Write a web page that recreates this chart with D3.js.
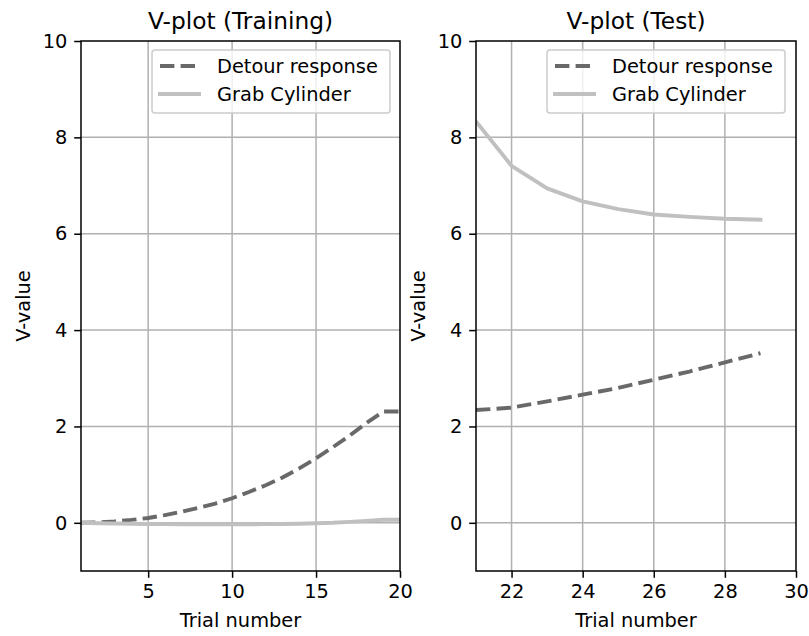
<!DOCTYPE html>
<html>
<head>
<meta charset="utf-8">
<script src="https://cdn.jsdelivr.net/npm/d3@7"></script>
<style>
  html, body { margin: 0; padding: 0; background: #fff; }
  svg { display: block; font-family: "DejaVu Sans", sans-serif; }
</style>
</head>
<body>
<svg id="chart" width="809" height="636"></svg>
<script>
// Training phase, trials 1..20
const trainTrials = d3.range(1, 21);
const trainDetour = [0, 0.01, 0.03, 0.06, 0.1, 0.16, 0.23, 0.31, 0.4, 0.51,
                     0.64, 0.78, 0.94, 1.13, 1.34, 1.57, 1.81, 2.07, 2.31, 2.31];
const trainGrab = [0, -0.01, -0.015, -0.02, -0.025, -0.028, -0.03, -0.03, -0.03, -0.03,
                   -0.03, -0.028, -0.025, -0.02, -0.01, 0.0, 0.02, 0.04, 0.065, 0.065];

// Test phase, trials 21..29
const testTrials = d3.range(21, 30);
const testDetour = [2.34, 2.39, 2.52, 2.66, 2.8, 2.97, 3.14, 3.33, 3.52];
const testGrab = [8.33, 7.41, 6.94, 6.67, 6.51, 6.4, 6.35, 6.31, 6.29];

const trainXTicks = [5, 10, 15, 20];
const testXTicks = [22, 24, 26, 28, 30];
const yTicks = [0, 2, 4, 6, 8, 10];

const seriesNames = ["Detour response", "Grab Cylinder"];
const detourColor = "#696969";
const grabColor = "#c0c0c0";

const svg = d3.select("#chart");
const plotTop = 41, plotBottom = 571;
const fs = 19.4, titleFs = 23.3;
const lw = 3.9, thin = 1.5, tick = 6.8;
const dash = "14.4,6.2";

const panels = [
  { title: "V-plot (Training)", left: 81, right: 400, xDomain: [1, 20], xTicks: trainXTicks,
    trials: trainTrials, detour: trainDetour, grab: trainGrab, legendX: 152 },
  { title: "V-plot (Test)", left: 476, right: 796, xDomain: [21, 30], xTicks: testXTicks,
    trials: testTrials, detour: testDetour, grab: testGrab, legendX: 547 }
];

panels.forEach((p, i) => {
  const x = d3.scaleLinear().domain(p.xDomain).range([p.left, p.right]);
  const y = d3.scaleLinear().domain([-1, 10]).range([plotBottom, plotTop]);
  const g = svg.append("g");
  const clipId = "clip" + i;
  svg.append("clipPath").attr("id", clipId).append("rect")
    .attr("x", p.left).attr("y", plotTop).attr("width", p.right - p.left).attr("height", plotBottom - plotTop);

  // grid
  const grid = g.append("g").attr("stroke", "#b0b0b0").attr("stroke-width", thin);
  grid.selectAll(".gx").data(p.xTicks.filter(t => t > p.xDomain[0] && t < p.xDomain[1])).join("line")
    .attr("x1", d => x(d)).attr("x2", d => x(d)).attr("y1", plotTop).attr("y2", plotBottom);
  grid.selectAll(".gy").data(yTicks.filter(t => t < 10)).join("line")
    .attr("y1", d => y(d)).attr("y2", d => y(d)).attr("x1", p.left).attr("x2", p.right);

  // lines
  const line = d3.line().x((d, k) => x(p.trials[k])).y(d => y(d));
  const lines = g.append("g").attr("clip-path", `url(#${clipId})`).attr("fill", "none");
  lines.append("path").datum(p.detour).attr("d", line)
    .attr("stroke", detourColor).attr("stroke-width", lw)
    .attr("stroke-dasharray", dash);
  lines.append("path").datum(p.grab).attr("d", line)
    .attr("stroke", grabColor).attr("stroke-width", lw)
    .attr("stroke-linejoin", "round").attr("stroke-linecap", "square");

  // axes
  const xAxis = d3.axisBottom(x).tickValues(p.xTicks).tickSize(tick).tickPadding(tick);
  const yAxis = d3.axisLeft(y).tickValues(yTicks).tickSize(tick).tickPadding(tick);
  const ax = g.append("g").attr("transform", `translate(0,${plotBottom})`).call(xAxis);
  const ay = g.append("g").attr("transform", `translate(${p.left},0)`).call(yAxis);
  [ax, ay].forEach(a => {
    a.attr("font-size", fs).attr("font-family", "DejaVu Sans, sans-serif");
    a.select(".domain").remove();
    a.selectAll("line").attr("stroke", "#000").attr("stroke-width", thin);
    a.selectAll("text").attr("fill", "#000");
  });

  // frame
  g.append("rect").attr("x", p.left).attr("y", plotTop)
    .attr("width", p.right - p.left).attr("height", plotBottom - plotTop)
    .attr("fill", "none").attr("stroke", "#000").attr("stroke-width", thin);

  // title and labels
  g.append("text").attr("x", (p.left + p.right) / 2).attr("y", 29)
    .attr("text-anchor", "middle").attr("font-size", titleFs).text(p.title);
  g.append("text").attr("x", (p.left + p.right) / 2).attr("y", 627)
    .attr("text-anchor", "middle").attr("font-size", fs).text("Trial number");
  g.append("text").attr("transform", `translate(${p.left - 51},${(plotTop + plotBottom) / 2}) rotate(-90)`)
    .attr("text-anchor", "middle").attr("font-size", fs).text("V-value");

  // legend
  const lg = g.append("g").attr("transform", `translate(${p.legendX},50)`);
  lg.append("rect").attr("x", 0).attr("y", 0).attr("width", 238).attr("height", 63)
    .attr("rx", 3).attr("fill", "#fff").attr("fill-opacity", 0.8)
    .attr("stroke", "#cccccc").attr("stroke-width", thin);
  const items = [
    { name: seriesNames[0], color: detourColor, dash: dash, cap: "butt" },
    { name: seriesNames[1], color: grabColor, dash: null, cap: "square" }
  ];
  items.forEach((it, k) => {
    const cy = 16 + k * 28;
    lg.append("line").attr("x1", 8).attr("x2", 47).attr("y1", cy).attr("y2", cy)
      .attr("stroke", it.color).attr("stroke-width", lw)
      .attr("stroke-linecap", it.cap)
      .attr("stroke-dasharray", it.dash);
    lg.append("text").attr("x", 65).attr("y", cy + 7.3).attr("font-size", fs).text(it.name);
  });
});
</script>
</body>
</html>
